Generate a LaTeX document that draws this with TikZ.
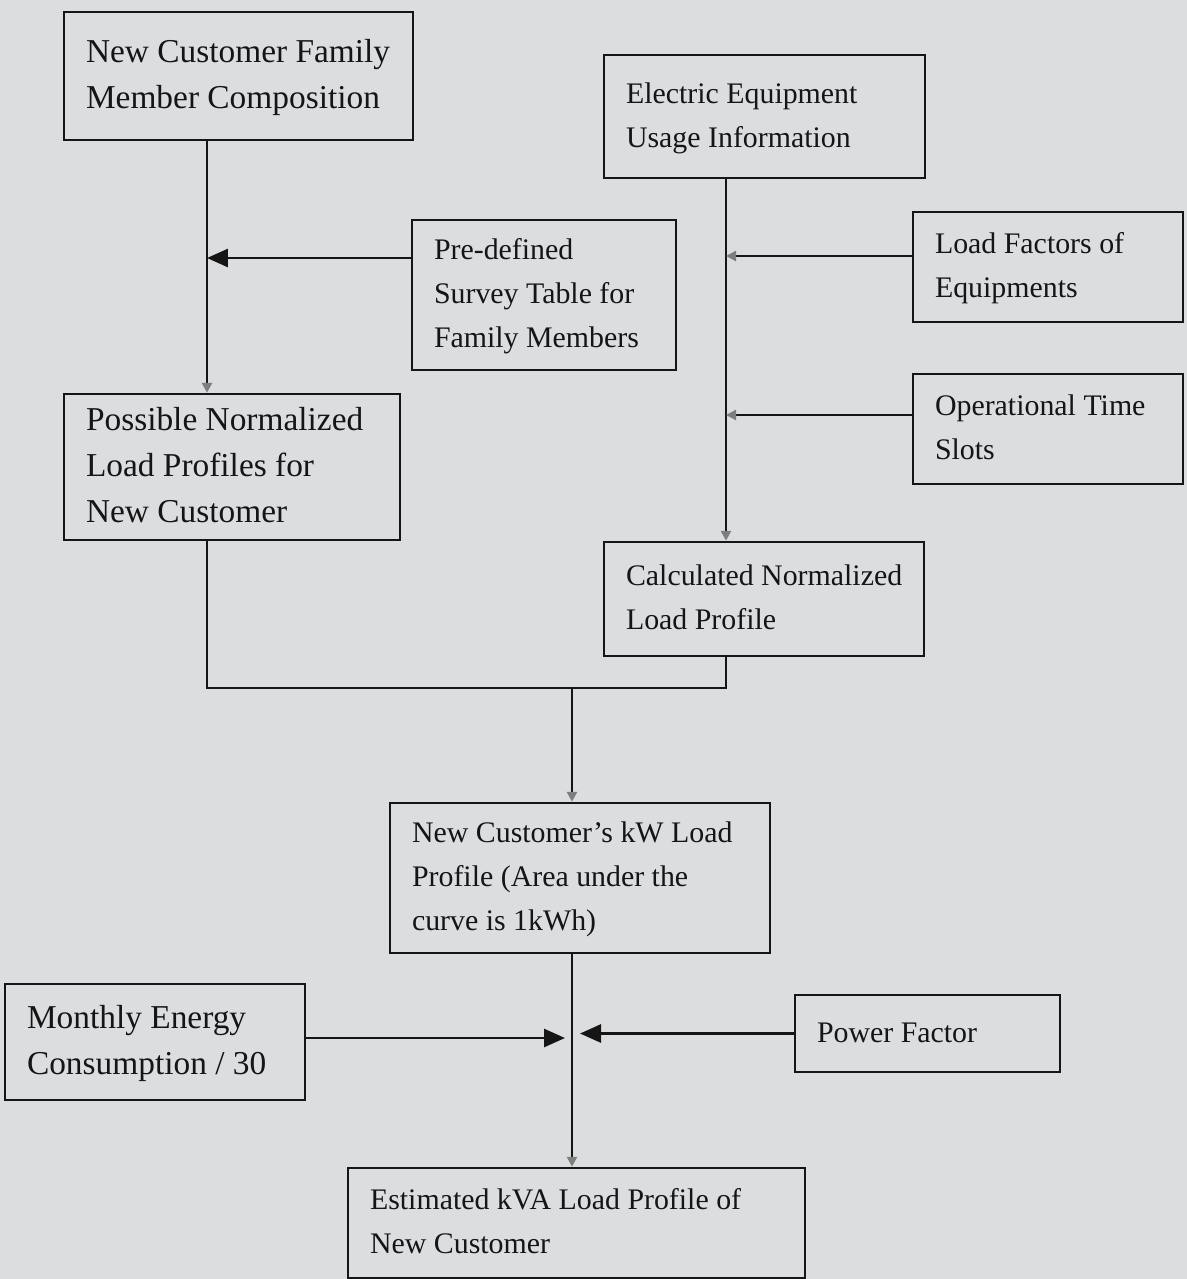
\documentclass[tikz,border=0pt]{standalone}
\usepackage{fontspec}
\setmainfont{Liberation Serif}
\usetikzlibrary{arrows.meta}
\definecolor{paper}{HTML}{DCDDDF}
\definecolor{ink}{HTML}{151515}
\newcommand{\bigtxt}{\fontsize{19pt}{26.2pt}\selectfont}
\newcommand{\smalltxt}{\fontsize{17pt}{25pt}\selectfont}
\tikzset{
  box/.style={draw=ink, line width=1.4pt, rectangle,
    inner xsep=0.44cm, inner ysep=0pt, text=ink},
  flow/.style={draw=ink, line width=1.6pt},
  bigtip/.style={flow, -{Triangle[length=0.42cm, width=0.36cm]}},
  smalltip/.style={flow, -{Triangle[length=0.2cm, width=0.2cm, color=ink!55]}}
}
% name, cx, cy, width (cm), height (cm), font, lines
\newcommand{\bx}[7]{%
  \node[box, minimum width=#4cm, minimum height=#5cm, font=#6] (#1) at (#2,#3)
    {\makebox[\dimexpr#4cm-0.88cm\relax][l]{\begin{tabular}{@{}l@{}}#7\end{tabular}}};}
\begin{document}
\begin{tikzpicture}[x=0.02cm, y=-0.02cm]
  \fill[paper] (0,0) rectangle (1187,1279);
  \useasboundingbox (0,0) rectangle (1187,1279);

  % boxes
  \bx{fam}{238.5}{76}{6.98}{2.56}{\bigtxt}{New Customer Family\\Member Composition}
  \bx{equip}{764.5}{116.5}{6.42}{2.46}{\smalltxt}{Electric Equipment\\Usage Information}
  \bx{survey}{544}{295}{5.28}{3.0}{\smalltxt}{Pre-defined\\Survey Table for\\Family Members}
  \bx{lf}{1048}{267}{5.4}{2.2}{\smalltxt}{Load Factors of\\Equipments}
  \bx{ots}{1048}{429}{5.4}{2.2}{\smalltxt}{Operational Time\\Slots}
  \bx{poss}{232}{467}{6.72}{2.92}{\bigtxt}{Possible Normalized\\Load Profiles for\\New Customer}
  \bx{calc}{764}{599}{6.4}{2.28}{\smalltxt}{Calculated Normalized\\Load Profile}
  \bx{kw}{580}{878}{7.6}{3.0}{\smalltxt}{New Customer's kW Load\\Profile (Area under the\\curve is 1kWh)}
  \bx{mec}{155}{1042}{6.0}{2.32}{\bigtxt}{Monthly Energy\\Consumption / 30}
  \bx{pf}{927.5}{1033.5}{5.3}{1.54}{\smalltxt}{Power Factor}
  \bx{kva}{576.5}{1223}{9.14}{2.2}{\smalltxt}{Estimated kVA Load Profile of\\New Customer}

  % column and junction points
  \coordinate (colL) at (207,0);
  \coordinate (colR) at (726,0);
  \coordinate (colM) at (572,0);
  \coordinate (jSurvey) at (207,258);
  \coordinate (jLf) at (726,256);
  \coordinate (jOts) at (726,415);
  \coordinate (merge) at (572,688);
  \coordinate (jMec) at (565,1038);
  \coordinate (jPf) at (580,1033.5);

  % left branch
  \draw[smalltip] (fam.south -| colL) -- (poss.north -| colL);
  \draw[bigtip] (survey.west |- jSurvey) -- (jSurvey);

  % right branch
  \draw[smalltip] (equip.south -| colR) -- (calc.north -| colR);
  \draw[smalltip] (lf.west |- jLf) -- (jLf);
  \draw[smalltip] (ots.west |- jOts) -- (jOts);

  % merge of both profiles
  \draw[flow] (poss.south -| colL) |- (merge) -| (calc.south -| colR);
  \draw[smalltip] (merge) -- (kw.north -| colM);

  % final stage
  \draw[smalltip] (kw.south -| colM) -- (kva.north -| colM);
  \draw[bigtip] (mec.east |- jMec) -- (jMec);
  \draw[bigtip] (pf.west) -- (jPf);
\end{tikzpicture}
\end{document}
